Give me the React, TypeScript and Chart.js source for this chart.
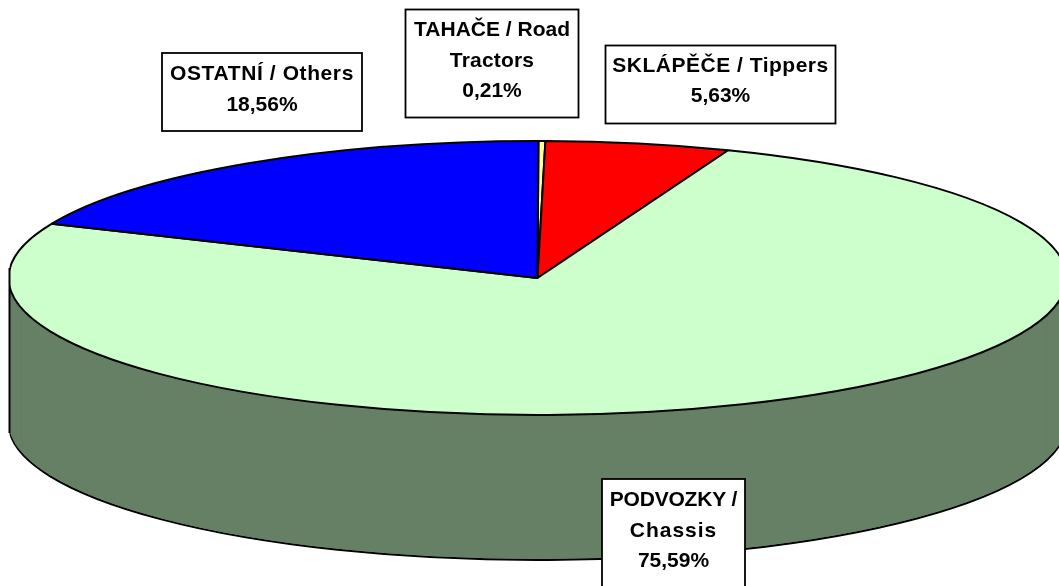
import React, { useEffect, useRef } from "react";
import { Chart, registerables } from "chart.js";

Chart.register(...registerables);

const categories = ["TAHAČE / Road Tractors", "SKLÁPĚČE / Tippers", "PODVOZKY / Chassis", "OSTATNÍ / Others"];
const shares = [0.21, 5.63, 75.59, 18.56];
const sliceColors = ["#FFFF99", "#FF0000", "#CCFFCC", "#0000FF"];
const labelLines = [["TAHAČE / Road", "Tractors"], ["SKLÁPĚČE / Tippers"], ["PODVOZKY /", "Chassis"], ["OSTATNÍ / Others"]];
const labelSpacing = [[0, 0.2], [0.5], [-0.2, 1], [0.6]];
const labelBoxes = [
  { x: 405.5, y: 9.5, w: 173, h: 108, first: 30.5 },
  { x: 605.5, y: 45.5, w: 230, h: 78, first: 66 },
  { x: 602, y: 479, w: 143, h: 112, first: 500.5 },
  { x: 162, y: 53, w: 200, h: 78, first: 74.5 },
];

const WIDTH = 1059;
const HEIGHT = 586;
const RADIUS = 529;
const SQUASH = 137 / 529;
const DEPTH = 145;
const WALL = "#668066";
const LEFT_CUT = 9.5;
const LINE_GAP = 30.5;

const squash = (ctx: CanvasRenderingContext2D, cy: number, dy: number) => {
  ctx.translate(0, cy + dy);
  ctx.scale(1, SQUASH);
  ctx.translate(0, -cy);
};

const flatStroke = (ctx: any) => {
  const orig = CanvasRenderingContext2D.prototype.stroke;
  ctx.stroke = function (...a: any[]) {
    ctx.save();
    ctx.setTransform(1, 0, 0, 1, 0, 0);
    orig.apply(ctx, a);
    ctx.restore();
  };
};

const tiltPlugin = {
  id: "tilt",
  beforeDatasetsDraw(chart: any) {
    const ctx = chart.ctx;
    const arcs = chart.getDatasetMeta(0).data;
    const cy = arcs[0].y;
    flatStroke(ctx);
    ctx.save();
    ctx.beginPath();
    ctx.rect(LEFT_CUT, 0, WIDTH, HEIGHT);
    ctx.clip();
    for (let d = DEPTH; d > 0; d--) {
      ctx.save();
      squash(ctx, cy, d);
      arcs.forEach((arc: any) => {
        const saved = arc.options;
        arc.options = Object.assign(Object.create(saved), {
          backgroundColor: WALL,
          borderColor: "#000000",
          borderWidth: d === DEPTH ? saved.borderWidth : 0,
        });
        arc.draw(ctx);
        arc.options = saved;
      });
      ctx.restore();
    }
    squash(ctx, cy, 0);
  },
  afterDatasetsDraw(chart: any) {
    const ctx = chart.ctx;
    const cy = chart.getDatasetMeta(0).data[0].y;
    ctx.restore();
    delete ctx.stroke;
    ctx.save();
    ctx.strokeStyle = "#000000";
    ctx.lineWidth = 2;
    ctx.beginPath();
    ctx.moveTo(LEFT_CUT, cy - 10);
    ctx.lineTo(LEFT_CUT, cy + 10 + DEPTH);
    ctx.stroke();
    ctx.restore();
  },
  afterDraw(chart: any) {
    const ctx = chart.ctx;
    ctx.save();
    labelBoxes.forEach((b, i) => {
      ctx.fillStyle = "#FFFFFF";
      ctx.strokeStyle = "#000000";
      ctx.lineWidth = 1.8;
      ctx.fillRect(b.x, b.y, b.w, b.h);
      ctx.strokeRect(b.x, b.y, b.w, b.h);
      ctx.fillStyle = "#000000";
      ctx.font = "bold 21px 'Liberation Sans', Arial, sans-serif";
      ctx.textAlign = "center";
      ctx.textBaseline = "middle";
      const lines = [...labelLines[i], shares[i].toFixed(2).replace(".", ",") + "%"];
      lines.forEach((t, k) => {
        ctx.letterSpacing = (labelSpacing[i][k] ?? 0) + "px";
        ctx.fillText(t, b.x + b.w / 2, b.first + k * LINE_GAP);
      });
      ctx.letterSpacing = "0px";
    });
    ctx.restore();
  },
};

export default function App() {
  const ref = useRef<HTMLCanvasElement>(null);
  useEffect(() => {
    document.body.style.margin = "0";
    const chart = new Chart(ref.current as HTMLCanvasElement, {
      type: "pie",
      data: {
        labels: categories,
        datasets: [
          {
            data: shares,
            backgroundColor: sliceColors,
            borderColor: "#000000",
            borderWidth: 2,
            radius: RADIUS,
            clip: false,
            rotation: 0.1,
          } as any,
        ],
      },
      options: {
        responsive: false,
        animation: false,
        layout: { padding: { left: 16, bottom: 30, top: 0, right: 0 } },
        plugins: { legend: { display: false }, tooltip: { enabled: false }, title: { display: false } },
      },
      plugins: [tiltPlugin],
    });
    return () => chart.destroy();
  }, []);
  return <canvas ref={ref} width={WIDTH} height={HEIGHT} style={{ display: "block" }} />;
}
